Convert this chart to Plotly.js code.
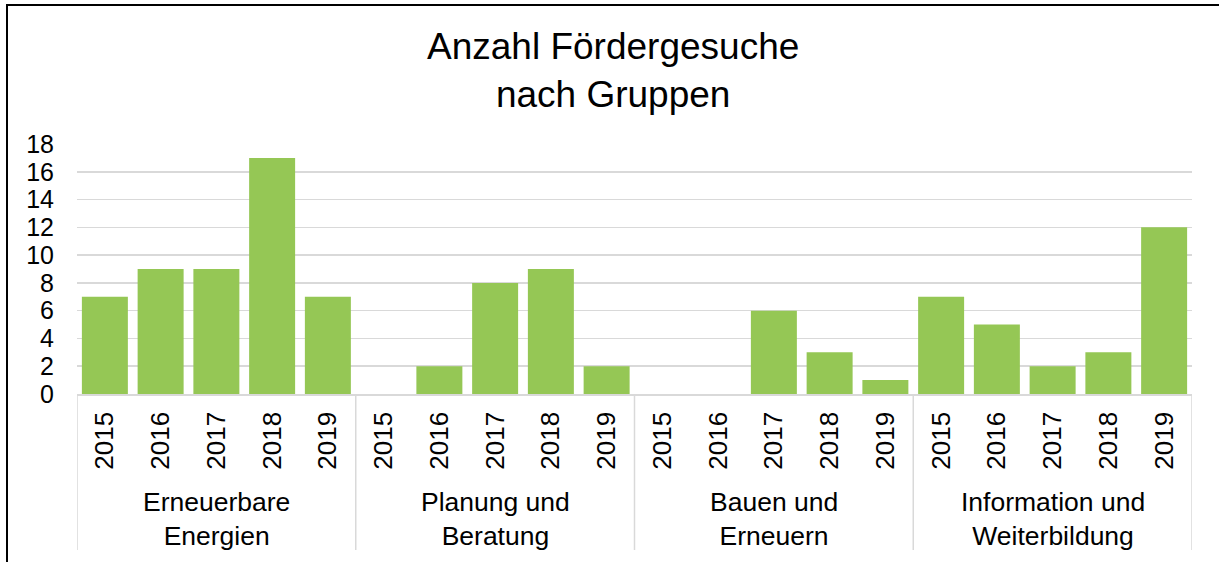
<!DOCTYPE html>
<html>
<head>
<meta charset="utf-8">
<script src="https://cdn.plot.ly/plotly-3.0.1.min.js"></script>
<style>
  html, body { margin: 0; padding: 0; background: #fff; overflow: hidden; }
  #chart { width: 1219px; height: 562px; }
  #frame { position: absolute; left: 6px; top: 4px; width: 1300px; height: 700px;
           border-left: 2px solid #000; border-top: 2px solid #000; pointer-events: none; }
</style>
</head>
<body>
<div id="chart"></div>
<div id="frame"></div>
<script>
const groups = ["Erneuerbare<br>Energien", "Planung und<br>Beratung", "Bauen und<br>Erneuern", "Information und<br>Weiterbildung"];
const years = ["2015", "2016", "2017", "2018", "2019"];
const erneuerbare = [7, 9, 9, 17, 7];
const planung = [0, 2, 8, 9, 2];
const bauen = [0, 0, 6, 3, 1];
const information = [7, 5, 2, 3, 12];
const seriesByGroup = [erneuerbare, planung, bauen, information];

const xs = [], ys = [], tickvals = [], ticktext = [];
seriesByGroup.forEach((vals, gi) => {
  vals.forEach((v, yi) => {
    const pos = gi * years.length + yi;
    xs.push(pos); ys.push(v);
    tickvals.push(pos); ticktext.push(years[yi]);
  });
});

const n = xs.length;
const shapes = [];
for (let gi = 0; gi <= groups.length; gi++) {
  shapes.push({type: 'line', xref: 'x', yref: 'paper',
    x0: gi * years.length - 0.5, x1: gi * years.length - 0.5,
    y0: 0, y1: -0.624, line: {color: '#d9d9d9', width: 1.5}});
}
const annotations = groups.map((g, gi) => ({
  text: g, xref: 'x', yref: 'paper', x: gi * years.length + (years.length - 1) / 2,
  y: -0.5, xanchor: 'center', yanchor: 'middle', showarrow: false,
  font: {family: 'Liberation Sans, Arial, sans-serif', size: 26.5, color: '#000'}
}));

const trace = {type: 'bar', x: xs, y: ys, marker: {color: '#95C755'}, hoverinfo: 'skip'};

const layout = {
  width: 1219, height: 562,
  margin: {l: 77, r: 27, t: 144, b: 168},
  paper_bgcolor: '#fff', plot_bgcolor: '#fff',
  showlegend: false,
  bargap: 0.175,
  font: {family: 'Liberation Sans, Arial, sans-serif', color: '#000'},
  title: {text: 'Anzahl Fördergesuche<br>nach Gruppen', x: 0.503, xanchor: 'center',
          y: 1 - 59 / 562, yanchor: 'middle', yref: 'container',
          font: {family: 'Liberation Sans, Arial, sans-serif', size: 37, color: '#000'}},
  xaxis: {range: [-0.5, n - 0.5], tickvals: tickvals, ticktext: ticktext, tickangle: -90,
          ticks: '', showgrid: false, zeroline: false, showline: true, linecolor: '#d9d9d9', linewidth: 1.5,
          tickfont: {size: 26, color: '#000'}, ticklabelstandoff: 6, fixedrange: true},
  yaxis: {range: [0, 18], dtick: 2, tick0: 0, showgrid: true, gridcolor: '#d9d9d9', gridwidth: 1.5,
          zeroline: false, showline: false, ticks: '', tickfont: {size: 25, color: '#000'},
          ticklabelstandoff: 22, fixedrange: true},
  shapes: shapes,
  annotations: annotations
};

Plotly.newPlot('chart', [trace], layout, {displayModeBar: false, staticPlot: true});
</script>
</body>
</html>
